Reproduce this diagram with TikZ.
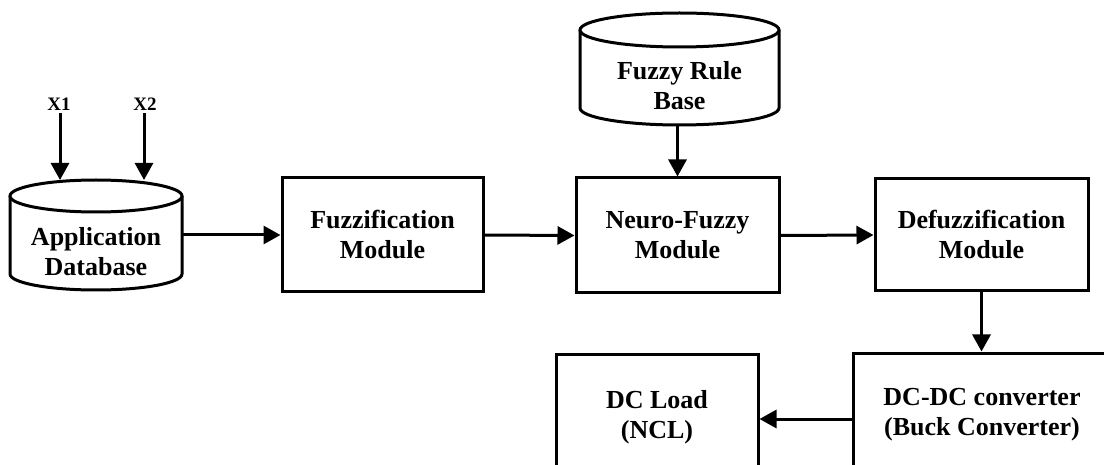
\documentclass[tikz,border=0pt]{standalone}
\usepackage{fontspec}
\setmainfont{Liberation Serif}
\usetikzlibrary{arrows.meta}
\begin{document}
\begin{tikzpicture}[x=1pt,y=-1pt,
  line/.style={line width=3pt},
  arr/.style={line, -{Triangle[length=17pt,width=18pt]}},
  box/.style={draw, line, rectangle, inner sep=0pt, align=center,
    font=\bfseries\fontsize{26}{30}\selectfont},
  lbl/.style={inner sep=0pt, align=center, font=\bfseries\fontsize{26}{30}\selectfont},
  xin/.style={inner sep=0pt, outer sep=3pt, font=\bfseries\fontsize{19}{20}\selectfont}]
\useasboundingbox (0,0) rectangle (1104,465);
\clip (0,0) rectangle (1104,465);
\fill[white] (0,0) rectangle (1104,465);

% Application Database cylinder
\draw[line] (10,196) -- (10,274) arc[start angle=180,end angle=360,x radius=86pt,y radius=16pt] -- (182,196);
\draw[line,fill=white] (96,196) ellipse [x radius=86pt, y radius=16pt];
\node[inner sep=0pt, minimum width=172pt, minimum height=110pt] (appdb) at (96,235) {};
\node[lbl] (appdbtext) at (96,252) {Application\\Database};

% Fuzzy Rule Base cylinder
\draw[line] (580,30) -- (580,108) arc[start angle=180,end angle=360,x radius=99.5pt,y radius=17pt] -- (779,30);
\draw[line,fill=white] (679.5,30) ellipse [x radius=99.5pt, y radius=17pt];
\node[inner sep=0pt, minimum width=199pt, minimum height=112pt] (frb) at (679.5,69) {};
\node[lbl] (frbtext) at (679.5,86) {Fuzzy Rule\\Base};

% inputs
\node[xin] (x1) at (59,104) {X1};
\node[xin] (x2) at (145,104) {X2};
\coordinate (x1end) at (60,180);
\coordinate (x2end) at (144,180);
\draw[arr] (x1.south -| x1end) -- (x1end);
\draw[arr] (x2.south -| x2end) -- (x2end);

% modules
\node[box, minimum width=201pt, minimum height=114pt] (fuzz) at (382.5,235) {Fuzzification\\Module};
\node[box, minimum width=203pt, minimum height=115pt] (neuro) at (677.5,235.5) {Neuro-Fuzzy\\Module};
\node[box, minimum width=213pt, minimum height=112pt] (defuzz) at (981.5,235) {Defuzzification\\Module};
\node[box, minimum width=258pt, minimum height=124pt] (dcdc) at (982,415) {DC-DC converter\\(Buck Converter)};
\node[box, minimum width=202pt, minimum height=126pt] (dcload) at (657,417) {DC Load\\(NCL)};

% connectors
\draw[arr] (appdb.east) -- (fuzz.west);
\draw[arr] (fuzz.east) -- (neuro.west);
\draw[arr] (neuro.east) -- (defuzz.west);
\draw[arr] (frb.south -| neuro.north) -- (neuro.north);
\draw[arr] (defuzz.south) -- (dcdc.north -| defuzz.south);
\draw[arr] (dcdc.west |- 0,419) -- (dcload.east |- 0,419);
\end{tikzpicture}
\end{document}
